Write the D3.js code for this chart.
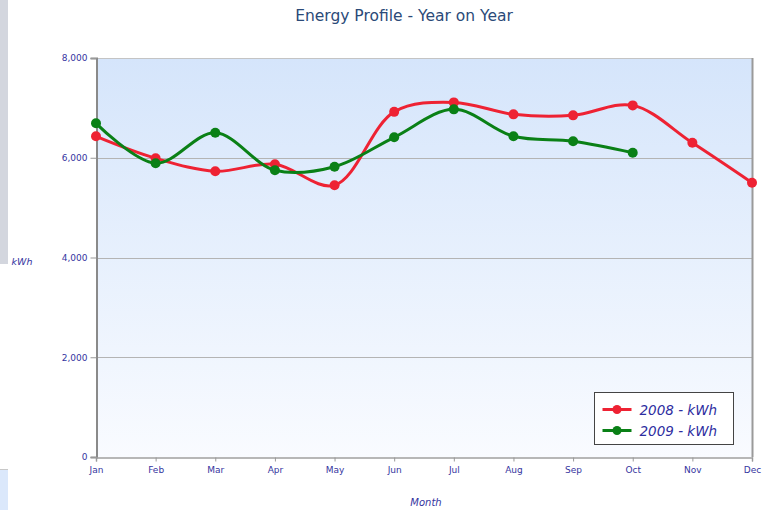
<!DOCTYPE html>
<html>
<head>
<meta charset="utf-8">
<script src="https://cdn.jsdelivr.net/npm/d3@7"></script>
<style>
  body { margin: 0; background: #fff; }
  text { font-family: "DejaVu Sans", Verdana, sans-serif; }
</style>
</head>
<body>
<div id="chart"></div>
<script>
var months = ['Jan','Feb','Mar','Apr','May','Jun','Jul','Aug','Sep','Oct','Nov','Dec'];
var kwh2008 = [6430, 5990, 5730, 5870, 5450, 6920, 7110, 6870, 6850, 7050, 6300, 5500];
var kwh2009 = [6690, 5890, 6500, 5750, 5820, 6410, 6970, 6430, 6330, 6100];
var yTicks = [0, 2000, 4000, 6000, 8000];
var seriesNames = ['2008 - kWh', '2009 - kWh'];
var seriesColors = ['#ee2233', '#0a8016'];

(function(){
var width = 766, height = 510;
var plotLeft = 96, plotRight = 752, plotTop = 58, plotBottom = 457;

var svg = d3.select('#chart').append('svg')
    .attr('width', width)
    .attr('height', height);

// frame bits at the left edge
svg.append('rect').attr('x', 0).attr('y', 0).attr('width', 8).attr('height', 264).attr('fill', '#d3d6de');
svg.append('rect').attr('x', 0).attr('y', 469).attr('width', 8).attr('height', 41).attr('fill', '#dbe8fb');
svg.append('line').attr('x1', 0).attr('x2', 8).attr('y1', 469.5).attr('y2', 469.5).attr('stroke', '#c8c8c8');

var grad = svg.append('defs').append('linearGradient')
    .attr('id', 'bg').attr('x1', 0).attr('x2', 0).attr('y1', 0).attr('y2', 1);
grad.append('stop').attr('offset', '0%').attr('stop-color', '#d5e5fb');
grad.append('stop').attr('offset', '100%').attr('stop-color', '#f9fbff');

var x = d3.scalePoint().domain(months).range([plotLeft, plotRight]);
var y = d3.scaleLinear().domain([0, 8000]).range([plotBottom, plotTop]);

svg.append('rect')
    .attr('x', plotLeft).attr('y', plotTop)
    .attr('width', plotRight - plotLeft).attr('height', plotBottom - plotTop)
    .attr('fill', 'url(#bg)');

// gridlines
svg.append('g').selectAll('line')
    .data(yTicks.filter(function(d){ return d > 0 && d < 8000; }))
    .enter().append('line')
    .attr('x1', plotLeft).attr('x2', plotRight)
    .attr('y1', function(d){ return Math.round(y(d)) + 0.5; })
    .attr('y2', function(d){ return Math.round(y(d)) + 0.5; })
    .attr('stroke', '#b4b4b4');

// top & right border
svg.append('line').attr('x1', plotLeft).attr('x2', plotRight).attr('y1', plotTop + 0.5).attr('y2', plotTop + 0.5)
    .attr('stroke', '#c4c4c4');
svg.append('line').attr('x1', plotRight + 0.5).attr('x2', plotRight + 0.5).attr('y1', plotTop).attr('y2', plotBottom)
    .attr('stroke', '#9a9a9a').attr('stroke-width', 2);

// axes
var yAxis = svg.append('g')
    .attr('transform', 'translate(' + (plotLeft + 0.5) + ',0)')
    .call(d3.axisLeft(y).tickValues(yTicks).tickSize(6).tickPadding(3).tickFormat(d3.format(',')));
var xAxis = svg.append('g')
    .attr('transform', 'translate(0,' + (plotBottom + 0.5) + ')')
    .call(d3.axisBottom(x).tickSize(4).tickPadding(5));

yAxis.select('.domain').attr('stroke', '#8a8a8a').attr('stroke-width', 2);
xAxis.select('.domain').attr('stroke', '#a0a0a0').attr('stroke-width', 1.5);
svg.selectAll('.tick line').attr('stroke', '#999');
svg.selectAll('.tick text').attr('fill', '#3535a0').style('font-size', '9px')
    .style('font-family', '"DejaVu Sans", Verdana, sans-serif');

// titles
svg.append('text')
    .attr('x', 404).attr('y', 21)
    .attr('text-anchor', 'middle')
    .attr('fill', '#2b4a78')
    .style('font-size', '15.5px')
    .text('Energy Profile - Year on Year');

svg.append('text')
    .attr('x', (plotLeft + plotRight) / 2 + 2).attr('y', 506)
    .attr('text-anchor', 'middle')
    .attr('fill', '#3535a0')
    .style('font-size', '10px').style('font-style', 'italic')
    .text('Month');

svg.append('text')
    .attr('x', 22).attr('y', 265)
    .attr('text-anchor', 'middle')
    .attr('fill', '#3535a0')
    .style('font-size', '9.5px').style('font-style', 'italic')
    .text('kWh');

// lines
var line = d3.line()
    .x(function(d){ return x(d.m); })
    .y(function(d){ return y(d.v); })
    .curve(d3.curveCatmullRom.alpha(0.5));

[kwh2008, kwh2009].forEach(function(vals, i){
    var pts = vals.map(function(v, j){ return {m: months[j], v: v}; });
    svg.append('path')
        .datum(pts)
        .attr('d', line)
        .attr('fill', 'none')
        .attr('stroke', seriesColors[i])
        .attr('stroke-width', 3);
    svg.append('g').selectAll('circle')
        .data(pts).enter().append('circle')
        .attr('cx', function(d){ return x(d.m); })
        .attr('cy', function(d){ return y(d.v); })
        .attr('r', 5)
        .attr('fill', seriesColors[i]);
});

// legend
var legend = svg.append('g').attr('transform', 'translate(594.5,392.5)');
legend.append('rect')
    .attr('width', 139).attr('height', 52)
    .attr('fill', '#fff').attr('stroke', '#444');
seriesNames.forEach(function(name, i){
    var ly = 17 + i * 21;
    legend.append('line')
        .attr('x1', 8).attr('x2', 37).attr('y1', ly).attr('y2', ly)
        .attr('stroke', seriesColors[i]).attr('stroke-width', 3);
    legend.append('circle').attr('cx', 22.5).attr('cy', ly).attr('r', 4.5).attr('fill', seriesColors[i]);
    legend.append('text')
        .attr('x', 45).attr('y', ly + 5)
        .attr('fill', '#2d2da0')
        .style('font-size', '13.5px').style('font-style', 'italic')
        .text(name);
});
})();
</script>
</body>
</html>
